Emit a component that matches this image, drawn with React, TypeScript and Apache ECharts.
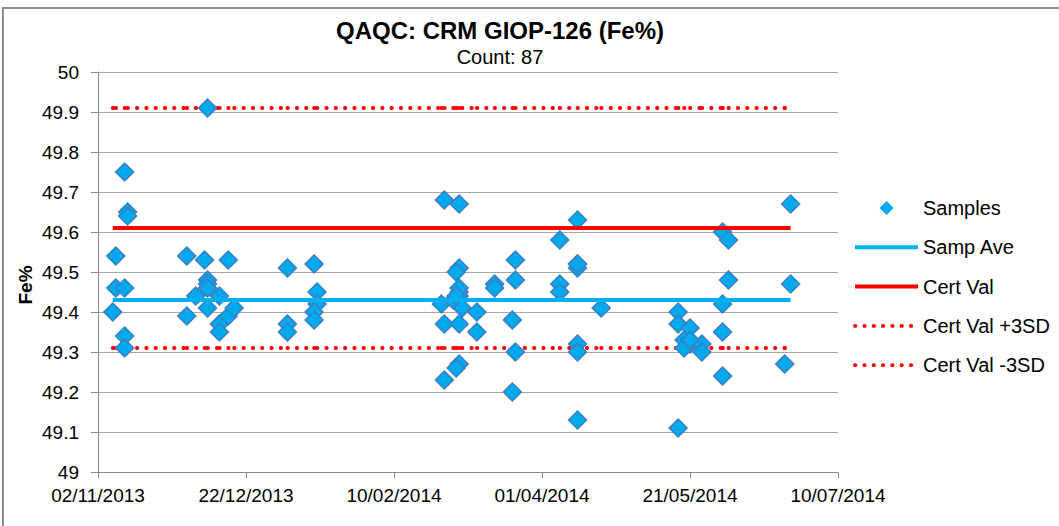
import { useEffect, useRef } from 'react';
import * as echarts from 'echarts';

const chartTitle = 'QAQC: CRM GIOP-126 (Fe%)';
const chartSubtitle = 'Count: 87';
const yAxisTitle = 'Fe%';
const legendNames = ['Samples', 'Samp Ave', 'Cert Val', 'Cert Val +3SD', 'Cert Val -3SD'];

const axisStartDate = '2013-11-02';
const axisEndDate = '2014-07-10';
const axisStepDays = 50;
const yMin = 49;
const yMax = 50;
const yStep = 0.1;

const sampAve = 49.43;
const certVal = 49.61;
const certSD = 0.1;

const sampleDates = [
  '2013-11-07', '2013-11-08', '2013-11-08', '2013-11-11', '2013-11-11', '2013-11-12', '2013-11-12', '2013-11-11', '2013-11-11',
  '2013-12-02', '2013-12-02', '2013-12-05', '2013-12-08', '2013-12-09', '2013-12-09', '2013-12-09', '2013-12-09',
  '2013-12-13', '2013-12-13', '2013-12-13', '2013-12-16', '2013-12-16', '2013-12-18',
  '2014-01-05', '2014-01-05', '2014-01-05', '2014-01-14', '2014-01-15', '2014-01-15', '2014-01-14', '2014-01-14',
  '2014-02-27', '2014-03-04', '2014-02-26', '2014-02-27', '2014-02-27', '2014-03-04', '2014-03-03', '2014-03-04',
  '2014-03-02', '2014-03-04', '2014-03-05', '2014-03-04', '2014-03-04', '2014-03-03',
  '2014-03-10', '2014-03-10', '2014-03-16', '2014-03-16', '2014-03-23', '2014-03-23', '2014-03-22', '2014-03-23', '2014-03-22',
  '2014-04-07', '2014-04-07', '2014-04-07', '2014-04-13', '2014-04-13', '2014-04-13', '2014-04-13', '2014-04-13', '2014-04-13',
  '2014-04-21',
  '2014-05-17', '2014-05-17', '2014-05-17', '2014-05-21', '2014-05-21', '2014-05-19', '2014-05-19', '2014-05-25', '2014-05-25',
  '2014-06-01', '2014-06-01', '2014-06-01', '2014-06-01', '2014-06-03', '2014-06-03',
  '2014-06-24', '2014-06-24', '2014-06-22',
  '2014-03-04', '2013-12-09', '2014-05-21', '2014-04-13', '2014-03-03',
];

const sampleFe = [
  49.40, 49.54, 49.46, 49.46, 49.75, 49.65, 49.64, 49.34, 49.31,
  49.54, 49.39, 49.44, 49.53, 49.91, 49.48, 49.47, 49.41,
  49.44, 49.37, 49.35, 49.53, 49.39, 49.41,
  49.51, 49.37, 49.35, 49.52, 49.45, 49.42, 49.40, 49.38,
  49.68, 49.67, 49.42, 49.37, 49.23, 49.51, 49.50, 49.45,
  49.43, 49.44, 49.41, 49.37, 49.27, 49.26,
  49.40, 49.35, 49.47, 49.46, 49.53, 49.48, 49.38, 49.30, 49.20,
  49.58, 49.47, 49.45, 49.63, 49.52, 49.51, 49.32, 49.30, 49.13,
  49.41,
  49.40, 49.37, 49.11, 49.36, 49.32, 49.33, 49.31, 49.32, 49.30,
  49.60, 49.42, 49.35, 49.24, 49.58, 49.48,
  49.67, 49.47, 49.27,
  49.46, 49.46, 49.33, 49.52, 49.44,
];

const DAY_MS = 86400000;
const parseUTC = (s: string) => {
  const [y, m, d] = s.split('-').map(Number);
  return Date.UTC(y, m - 1, d);
};
const originMs = parseUTC(axisStartDate);
const toDay = (s: string) => Math.round((parseUTC(s) - originMs) / DAY_MS);
const pad = (n: number) => (n < 10 ? '0' + n : '' + n);
const formatDay = (day: number) => {
  const dt = new Date(originMs + Math.round(day) * DAY_MS);
  return pad(dt.getUTCDate()) + '/' + pad(dt.getUTCMonth() + 1) + '/' + dt.getUTCFullYear();
};

const FONT = '"Liberation Sans", Arial, sans-serif';

export default function App() {
  const ref = useRef<HTMLDivElement>(null);

  useEffect(() => {
    if (!ref.current) return;
    const chart = echarts.init(ref.current, undefined, { renderer: 'svg' });

    const points = sampleDates.map((d, i) => [toDay(d), sampleFe[i]]);
    const days = Array.from(new Set(points.map((p) => p[0] as number))).sort((a, b) => a - b);
    const first = days[0];
    const last = days[days.length - 1];
    const segments: [number, number][] = [];
    for (let i = 0; i < days.length - 1; i++) segments.push([days[i], days[i + 1]]);

    const dotted = {
      color: '#FF0000',
      width: 3.8,
      type: [0.4, 8.9],
      cap: 'round',
    };

    const sdSeries = (name: string, v: number) => ({
      name,
      type: 'line',
      data: [],
      symbol: 'none',
      silent: true,
      lineStyle: dotted,
      itemStyle: { color: '#FF0000' },
      markLine: {
        silent: true,
        z: 1,
        animation: false,
        symbol: ['none', 'none'],
        label: { show: false },
        emphasis: { disabled: true },
        lineStyle: dotted,
        data: segments.map(([a, b]) => [{ coord: [a, v] }, { coord: [b, v] }]),
      },
    });

    const axisGray = '#898989';
    const noSymbol = { opacity: 0 };

    chart.setOption({
      animation: false,
      backgroundColor: '#FFFFFF',
      textStyle: { fontFamily: FONT },
      title: [
        {
          text: chartTitle,
          left: 500,
          textAlign: 'center',
          top: 18,
          padding: 0,
          textStyle: { fontSize: 24, fontWeight: 'bold', color: '#000', fontFamily: FONT },
        },
        {
          text: chartSubtitle,
          left: 500,
          textAlign: 'center',
          top: 47,
          padding: 0,
          textStyle: { fontSize: 20, fontWeight: 'normal', color: '#000', fontFamily: FONT },
        },
      ],
      graphic: [
        {
          type: 'rect',
          silent: true,
          z: -10,
          shape: { x: 3, y: 8, width: 1200, height: 700 },
          style: { fill: 'none', stroke: '#8C8C8C', lineWidth: 2 },
        },
        {
          type: 'text',
          silent: true,
          x: 25,
          y: 285,
          rotation: Math.PI / 2,
          style: {
            text: yAxisTitle,
            fontSize: 19,
            fontWeight: 'bold',
            fontFamily: FONT,
            fill: '#000',
            textAlign: 'center',
            textVerticalAlign: 'middle',
          },
        },
      ],
      legend: {
        orient: 'vertical',
        left: 853,
        top: 198,
        padding: 0,
        itemWidth: 63,
        itemHeight: 14,
        itemGap: 19.3,
        selectedMode: false,
        lineStyle: { width: 4 },
        textStyle: { fontSize: 20, lineHeight: 20, color: '#000', fontFamily: FONT },
        data: [
          { name: legendNames[0], icon: 'path://M0,-1L1,0L0,1L-1,0Z', itemStyle: { borderWidth: 0, color: '#00A8EC' } },
          { name: legendNames[1], itemStyle: noSymbol, lineStyle: { width: 4 } },
          { name: legendNames[2], itemStyle: noSymbol, lineStyle: { width: 4 } },
          { name: legendNames[3], itemStyle: noSymbol, lineStyle: { width: 3.8 } },
          { name: legendNames[4], itemStyle: noSymbol, lineStyle: { width: 3.8 } },
        ],
      },
      grid: {
        left: 98,
        right: 221,
        top: 72,
        bottom: 54,
        containLabel: false,
        outerBoundsMode: 'none',
      },
      xAxis: {
        type: 'value',
        min: 0,
        max: toDay(axisEndDate),
        interval: axisStepDays,
        axisLine: { show: true, onZero: false, lineStyle: { color: axisGray, width: 1 } },
        axisTick: { show: true, length: 6, lineStyle: { color: axisGray } },
        splitLine: { show: false },
        axisLabel: { formatter: (v: number) => formatDay(v), fontSize: 19, color: '#000', margin: 14, fontFamily: FONT },
      },
      yAxis: {
        type: 'value',
        min: yMin,
        max: yMax,
        interval: yStep,
        axisLine: { show: true, lineStyle: { color: axisGray, width: 1 } },
        axisTick: { show: true, length: 7, lineStyle: { color: axisGray } },
        splitLine: { show: true, lineStyle: { color: '#A6A6A6', width: 1 } },
        axisLabel: {
          formatter: (v: number) => String(Number(v.toFixed(1))),
          fontSize: 19,
          color: '#000',
          margin: 19,
          fontFamily: FONT,
        },
      },
      series: [
        {
          name: legendNames[1],
          type: 'line',
          data: [[first, sampAve], [last, sampAve]],
          symbol: 'none',
          silent: true,
          lineStyle: { color: '#00B0F0', width: 4 },
          itemStyle: { color: '#00B0F0' },
        },
        {
          name: legendNames[2],
          type: 'line',
          data: [[first, certVal], [last, certVal]],
          symbol: 'none',
          silent: true,
          lineStyle: { color: '#FF0000', width: 4 },
          itemStyle: { color: '#FF0000' },
        },
        sdSeries(legendNames[3], certVal + 3 * certSD),
        sdSeries(legendNames[4], certVal - 3 * certSD),
        {
          name: legendNames[0],
          type: 'scatter',
          data: points,
          symbol: 'diamond',
          symbolSize: 18,
          itemStyle: { color: '#00A8EC', borderColor: '#3F7EC1', borderWidth: 1.5, opacity: 1 },
        },
      ],
    });

    return () => chart.dispose();
  }, []);

  return (
    <div
      ref={ref}
      style={{ position: 'fixed', left: 0, top: 0, width: 1059, height: 526, background: '#fff' }}
    />
  );
}
